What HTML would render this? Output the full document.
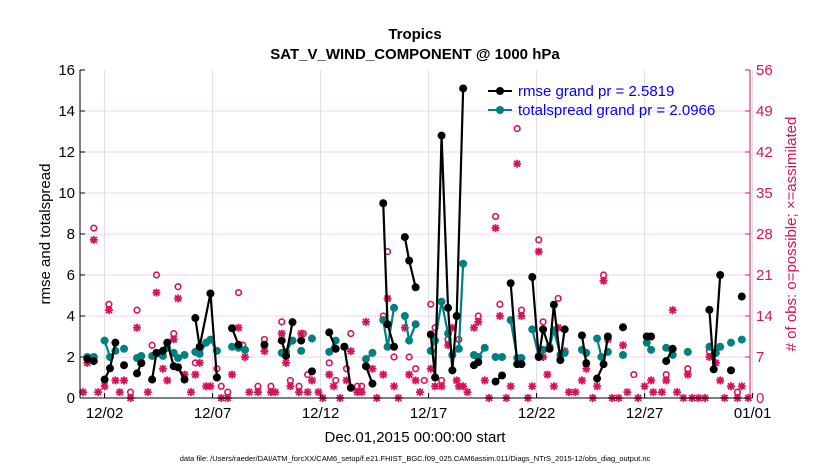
<!DOCTYPE html>
<html><head><meta charset="utf-8">
<style>
body{margin:0;background:#fff;}
svg{display:block;font-family:"Liberation Sans",Arial,sans-serif;}
</style></head>
<body>
<svg id="chart" width="830" height="470" viewBox="0 0 830 470" xmlns="http://www.w3.org/2000/svg">
<rect width="830" height="470" fill="#fff"/>
<text x="415" y="39" text-anchor="middle" font-size="15" font-weight="bold">Tropics</text>
<text x="415" y="59" text-anchor="middle" font-size="15" font-weight="bold">SAT_V_WIND_COMPONENT @ 1000 hPa</text>
<g id="grid"></g>
<g id="obs"></g>
<g id="series"></g>
<g id="axes"></g>
<text transform="translate(50,234) rotate(-90)" text-anchor="middle" font-size="15">rmse and totalspread</text>
<text transform="translate(796,234) rotate(-90)" text-anchor="middle" font-size="15" fill="#d4145a"># of obs: o=possible; ×=assimilated</text>
<text x="415" y="442" text-anchor="middle" font-size="15">Dec.01,2015 00:00:00 start</text>
<text x="415" y="461" text-anchor="middle" font-size="7.5">data file: /Users/raeder/DAI/ATM_forcXX/CAM6_setup/f.e21.FHIST_BGC.f09_025.CAM6assim.011/Diags_NTrS_2015-12/obs_diag_output.nc</text>
<g>
<line x1="488" y1="91" x2="512" y2="91" stroke="#000" stroke-width="2"/><circle cx="500" cy="91" r="4" fill="#000"/>
<text x="518" y="96" font-size="15" fill="#0000ff">rmse grand pr = 2.5819</text>
<line x1="488" y1="110" x2="512" y2="110" stroke="#008080" stroke-width="2"/><circle cx="500" cy="110" r="4" fill="#008080"/>
<text x="518" y="115" font-size="15" fill="#0000ff">totalspread grand pr = 2.0966</text>
</g>
</svg>
<script>
const rmseT=[0.2,0.5,null,1.0,1.25,1.5,null,1.9,null,2.5,2.7,null,3.2,3.4,3.7,3.9,4.2,4.4,4.7,null,5.2,5.4,5.9,6.2,null,6.9,7.2,null,8.4,null,9.2,9.4,9.7,null,10.1,null,10.6,null,11.4,11.7,null,12.1,12.4,null,13.1,13.4,null,13.9,14.1,14.4,null,14.9,15.1,15.4,null,16.1,16.3,16.6,16.9,17.1,17.3,17.6,null,18.1,18.3,null,19.1,19.4,null,19.8,20.1,20.3,null,20.8,21.1,21.3,21.6,21.8,22.1,22.3,null,23.1,23.3,null,23.8,24.1,24.3,null,25.0,null,26.1,26.3,null,27.0,27.3,null,29.0,29.2,29.5,null,30.0,null,30.5];
const rmseV=[1.9,1.8,null,0.9,1.45,2.7,null,1.6,null,1.2,1.7,null,0.9,2.2,2.3,2.7,1.55,1.5,0.9,null,3.9,2.5,5.1,1.0,null,3.4,2.6,null,2.6,null,2.8,2.05,3.7,null,2.8,null,1.3,null,3.2,2.4,null,2.5,0.5,null,1.55,0.7,null,9.5,3.6,2.5,null,7.85,6.7,5.4,null,3.1,1.0,12.8,4.4,1.35,4.0,15.1,null,1.6,1.75,null,0.8,1.1,null,5.6,1.65,1.65,null,5.9,2.0,3.35,2.4,4.55,1.85,3.35,null,3.05,1.7,null,0.95,1.65,3.0,null,3.45,null,3.0,3.0,null,1.8,2.4,null,4.3,1.4,6.0,null,1.35,null,4.95];
const spreadT=[0.2,0.5,null,1.0,1.25,1.5,null,1.9,null,2.5,2.7,null,3.2,3.7,3.9,4.2,4.4,4.7,null,5.2,5.4,5.7,5.9,6.2,null,6.9,7.2,7.5,null,9.2,9.4,9.7,null,10.1,null,10.6,null,11.4,11.7,null,12.1,null,13.1,13.4,null,13.9,14.1,14.4,null,14.9,15.1,15.4,null,16.1,16.3,16.6,16.9,17.1,17.4,17.6,null,18.1,18.3,18.6,null,19.1,19.4,null,19.8,20.1,20.3,null,20.8,21.1,21.3,21.6,21.8,22.1,22.3,null,23.1,23.3,null,23.8,24.0,24.3,null,25.0,null,26.1,26.3,null,27.0,27.3,null,28.0,null,29.0,29.3,29.5,null,30.0,null,30.5];
const spreadV=[2.0,2.0,null,2.8,2.0,2.3,null,2.4,null,1.95,2.05,null,2.05,2.05,2.45,2.2,1.95,2.1,null,2.25,2.15,2.7,2.85,2.3,null,2.5,2.45,2.35,null,2.2,2.25,2.8,null,2.3,null,2.9,null,2.25,2.8,null,2.5,null,1.9,2.2,null,3.8,2.5,4.4,null,4.0,2.8,3.6,null,2.3,2.8,4.7,3.15,2.1,2.4,6.55,null,2.1,2.0,2.45,null,2.0,2.0,null,3.8,1.95,1.95,null,3.35,2.05,2.35,2.5,3.3,2.1,2.2,null,2.35,2.2,null,2.9,2.0,2.25,null,2.1,null,2.7,2.35,null,2.45,2.1,null,2.25,null,2.5,2.2,2.5,null,2.7,null,2.85];
const possT=[0.2,0.5,1.2,2.2,2.5,3.2,3.4,4.2,4.4,5.2,5.4,6.2,6.4,6.7,7.2,7.4,8.1,8.4,8.7,9.2,9.6,10.0,10.2,10.4,11.4,11.7,12.2,12.4,12.7,12.9,13.9,14.1,14.4,15.1,15.4,15.8,16.1,16.3,16.6,16.9,17.4,18.3,19.1,19.3,20.1,20.3,21.1,21.3,22.0,24.1,25.5,27.0,28.0,29.0,30.3];
const possN=[7,29,16,1,15,9,21,11,19,6,8,5,2,1,18,9,2,10,2,13,3,2,11,4,6,3,5,11,2,2,14,25,7,7,5,3,16,12,3,10,10,14,31,16,46,15,27,13,17,21,4,4,5,8,1];
const assimT=[0,0.2,0.5,0.7,1.0,1.2,1.5,1.7,1.9,2.2,2.5,2.7,3.0,3.4,3.7,3.9,4.2,4.4,4.7,5.0,5.2,5.4,5.7,5.9,6.4,6.7,6.9,7.2,7.5,7.7,8.1,8.4,8.7,8.9,9.2,9.4,9.6,10.0,10.1,10.4,10.6,10.9,11.1,11.4,11.6,11.9,12.2,12.4,12.7,12.9,13.1,13.4,13.6,13.9,14.1,14.4,14.6,14.9,15.1,15.4,15.6,16.1,16.3,16.6,16.9,17.1,17.3,17.4,17.6,17.8,18.1,18.3,18.6,18.8,19.1,19.3,19.6,19.8,20.1,20.3,20.6,20.8,21.1,21.3,21.5,21.8,22.0,22.3,22.5,22.8,23.1,23.3,23.6,23.8,24.1,24.3,24.5,24.8,25.0,25.2,25.7,26.0,26.3,26.4,26.8,27.0,27.3,27.5,27.8,28.0,28.2,28.5,28.8,29.0,29.3,29.5,29.7,30.0,30.3,30.5,30.8];
const assimN=[1,6,27,1,2,15,3,1,3,0,12,6,1,18,5,3,10,17,4,1,4,6,2,2,0,0,4,12,7,1,1,8,1,1,11,6,2,1,11,1,3,1,0,4,2,0,3,8,1,1,13,5,0,4,17,2,0,12,4,3,1,5,2,2,9,12,3,2,2,1,12,13,3,0,29,14,0,2,40,14,0,2,25,7,4,2,12,8,1,1,3,5,0,2,20,10,0,0,9,1,0,2,3,1,1,3,15,1,0,4,0,0,0,7,6,3,0,2,0,2,0];
const xTickDays=[1,6,11,16,21,26,31];
const xTickLabels=["12/02","12/07","12/12","12/17","12/22","12/27","01/01"];
const yTicks=[0,2,4,6,8,10,12,14,16];
const rTicks=[0,7,14,21,28,35,42,49,56];

const NS="http://www.w3.org/2000/svg";
const L=80,R=750,T=70,B=398;
const X=d=>83+d*21.6;
const Y=v=>B-(v/16)*(B-T);
const YR=n=>B-(n/56)*(B-T);
function mk(tag,attrs,parent){const e=document.createElementNS(NS,tag);for(const k in attrs)e.setAttribute(k,attrs[k]);parent.appendChild(e);return e;}
const grid=document.getElementById('grid'),axes=document.getElementById('axes'),obs=document.getElementById('obs'),ser=document.getElementById('series');
xTickDays.forEach((d,i)=>{
  const gl=mk('line',{x1:X(d),x2:X(d),y1:T,y2:B,stroke:'#dcdcdc','stroke-width':1},grid);
  
  
  const tk=mk('line',{x1:X(d),x2:X(d),y1:B,y2:B-5,stroke:'#000'},axes);
  
  
  const t=mk('text',{x:X(d),y:418,'text-anchor':'middle','font-size':15},axes);
  t.textContent=xTickLabels[i];
  
  
});
rTicks.forEach(n=>{
  if(n>0&&n<56){const gl=mk('line',{x1:L,x2:R,y1:YR(n),y2:YR(n),stroke:'#f8d3e0','stroke-width':1},grid);
  
  }
  const tk=mk('line',{x1:R,x2:R-5,y1:YR(n),y2:YR(n),stroke:'#d4145a'},axes);
  
  
  const t=mk('text',{x:R+6,y:YR(n)+5,'font-size':15,fill:'#d4145a'},axes);
  t.textContent=n;
  
  
});
yTicks.forEach(v=>{
  const tk=mk('line',{x1:L,x2:L+5,y1:Y(v),y2:Y(v),stroke:'#000'},axes);
  
  
  const t=mk('text',{x:L-5,y:Y(v)+5,'text-anchor':'end','font-size':15},axes);
  t.textContent=v;
  
  
});
const la=mk('line',{x1:L,x2:L,y1:T,y2:B,stroke:'#000','stroke-width':1},axes);


const ba=mk('line',{x1:L,x2:R,y1:B,y2:B,stroke:'#000','stroke-width':1},axes);


const ra=mk('line',{x1:R,x2:R,y1:T,y2:B,stroke:'#d4145a','stroke-width':1},axes);



const C='#d4145a';
possT.forEach((d,i)=>{
  const c=mk('circle',{cx:X(d),cy:YR(possN[i]),r:2.8,fill:'none',stroke:C,'stroke-width':1.6},obs);
  
  
});
assimT.forEach((d,i)=>{
  const cx=X(d),cy=YR(assimN[i]);
  const g=mk('g',{},obs);
  
  
  mk('path',{d:`M${cx-4} ${cy}H${cx+4}M${cx} ${cy-4}V${cy+4}M${cx-3} ${cy-3}L${cx+3} ${cy+3}M${cx-3} ${cy+3}L${cx+3} ${cy-3}`,stroke:C,'stroke-width':1.8},g);
  mk('circle',{cx:cx,cy:cy,r:2,fill:C},g);
});
function drawSeries(ts,vs,color,name){
  let segs=[],cur=[];
  ts.forEach((t,i)=>{if(t===null){if(cur.length)segs.push(cur);cur=[];}else cur.push([X(t),Y(vs[i])]);});
  if(cur.length)segs.push(cur);
  segs.forEach(s=>{
    if(s.length>1){const p=mk('polyline',{points:s.map(q=>q.join(',')).join(' '),fill:'none',stroke:color,'stroke-width':2.2},ser);
    
    }
    s.forEach(q=>{const c=mk('circle',{cx:q[0],cy:q[1],r:4,fill:color},ser);
    
    });
  });
}
drawSeries(spreadT,spreadV,'#008080','totalspread');
drawSeries(rmseT,rmseV,'#000000','rmse');
</script>
</body></html>
